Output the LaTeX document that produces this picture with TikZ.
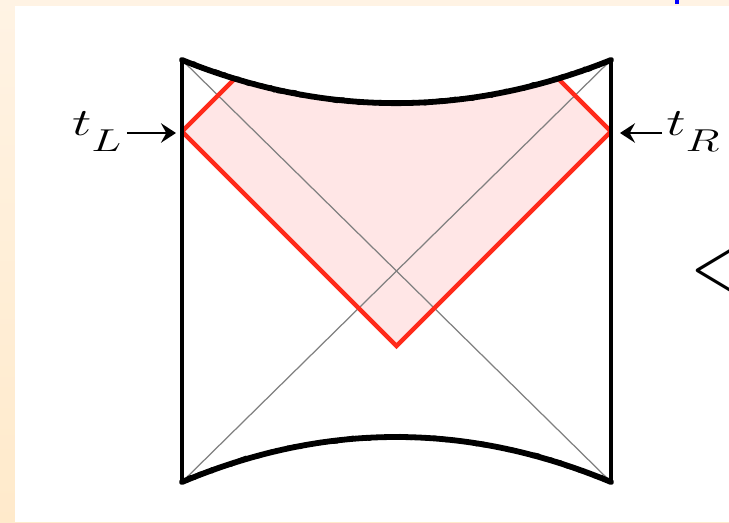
\documentclass[tikz,border=0pt]{standalone}
\usepackage{graphicx}
\usepackage{tikz}
\usetikzlibrary{arrows.meta,calc,decorations.pathmorphing}
\definecolor{SlideCream}{HTML}{FFF3E4}
\definecolor{SlideCreamDeep}{HTML}{FFEACB}
\definecolor{WedgeRed}{HTML}{FF2A1A}
\definecolor{WedgePink}{HTML}{FFE6E6}
\definecolor{LinkBlue}{HTML}{0000FF}
\tikzset{
  wall/.style={line width=1.9pt,draw=black},
  lightray/.style={line width=0.7pt,draw=black!50},
  singular/.style={line width=3.3pt,draw=black,line cap=round},
  singularfuzz/.style={line width=1.8pt,draw=black,line join=round,line cap=round,decorate,decoration={random steps,segment length=1.6pt,amplitude=1pt}},
  wedge/.style={line width=2.6pt,draw=WedgeRed,line join=miter},
  timearrow/.style={-{Stealth[length=8.5pt,width=11pt,inset=3pt]},line width=1.6pt},
  timelabel/.style={font=\huge,inner sep=0pt}
}
\newcommand{\sidetime}[1]{\scalebox{1.5}[1.06]{$t_{\raisebox{-6pt}{\scalebox{1.18}{$\scriptstyle #1$}}}$}}
\pgfmathsetseed{7}

\begin{document}
\begin{tikzpicture}
\useasboundingbox (-7.92,-5.02) rectangle (6.66,5.42);
\clip (-7.92,-5.02) rectangle (6.66,5.42);
% slide background
\shade[top color=SlideCream,bottom color=SlideCreamDeep] (-7.92,-5.02) rectangle (6.66,5.42);
\fill[white] (-7.62,-5.02) rectangle (6.66,5.30);
\fill[LinkBlue] (5.58,5.34) rectangle (5.66,5.42);
% corners of the diagram
\coordinate (NW) at (-4.28,4.22);
\coordinate (NE) at (4.30,4.22);
\coordinate (SW) at (-4.28,-4.22);
\coordinate (SE) at (4.30,-4.22);
\coordinate (pL) at (-4.28,2.79);
\coordinate (pR) at (4.30,2.79);
\coordinate (tip) at (0.01,-1.50);
% wedge, cut off by the singularity
\begin{scope}
\clip (NW) .. controls (-1.43,3.07) and (1.43,3.07) .. (NE) -- (SE) -- (SW) -- cycle;
\fill[WedgePink] (pL) -- ++(2,2) -- ($(pR)+(-2,2)$) -- (pR) -- (tip) -- cycle;
\end{scope}
\draw[lightray] (NW) -- (SE);
\draw[lightray] (SW) -- (NE);
\begin{scope}
\clip (NW) .. controls (-1.43,3.07) and (1.43,3.07) .. (NE) -- (SE) -- (SW) -- cycle;
\draw[wedge] ($(pL)+(1.5,1.5)$) -- (pL) -- (tip) -- (pR) -- ($(pR)+(-1.5,1.5)$);
\end{scope}
\draw[wall] (NW) -- (SW);
\draw[wall] (NE) -- (SE);
% singularities: smooth core plus a rough edge
\draw[singular] (NW) .. controls (-1.43,3.07) and (1.43,3.07) .. (NE);
\draw[singularfuzz] (NW) .. controls (-1.43,3.07) and (1.43,3.07) .. (NE);
\draw[singular] (SW) .. controls (-1.43,-3.02) and (1.43,-3.02) .. (SE);
\draw[singularfuzz] (SW) .. controls (-1.43,-3.02) and (1.43,-3.02) .. (SE);
% boundary times
\node[timelabel,anchor=base east] (tL) at (-5.46,2.72) {\sidetime{L}};
\node[timelabel,anchor=base west] (tR) at (5.40,2.72) {\sidetime{R}};
\coordinate (aL) at (-4.40,2.76);
\coordinate (aR) at (4.48,2.76);
\draw[timearrow] ($(tL.east |- aL)+(0.08,0)$) -- (aL);
\draw[timearrow] ($(tR.west |- aR)+(-0.08,0)$) -- (aR);
\node[anchor=base west,inner sep=0pt,font=\Huge] (lt) at (5.88,-0.44) {\scalebox{1.6}[2.08]{$<$}};
\end{tikzpicture}
\end{document}
